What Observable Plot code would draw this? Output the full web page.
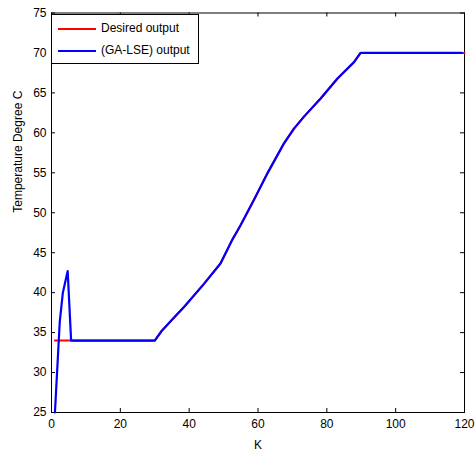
<!DOCTYPE html>
<html>
<head>
<meta charset="utf-8">
<script src="https://cdn.jsdelivr.net/npm/d3@7"></script>
<script src="https://cdn.jsdelivr.net/npm/@observablehq/plot@0.6"></script>
<style>
  html, body { margin: 0; padding: 0; background: #fff; }
  #wrap { position: relative; width: 476px; height: 453px; font-family: "Liberation Sans", Arial, sans-serif; }
  #legend { position: absolute; left: 51px; top: 14px; width: 148px; height: 50px; border: 1px solid #000; background: #fff; box-sizing: border-box; font-size: 12px; }
  .item { position: absolute; left: 6px; height: 14px; line-height: 14px; white-space: nowrap; }
  .item span.sw { display: inline-block; width: 38px; height: 2px; vertical-align: middle; margin-right: 5px; }
</style>
</head>
<body>
<div id="wrap"></div>
<script>
const desiredK = [1, 30, 32, 35, 38.5, 44.3, 49.1, 52.5, 54.9, 58.8, 62.7, 67.5, 70.4, 73.3, 78.2, 83.1, 87.9, 89.8, 120];
const desiredV = [34, 34, 35.2, 36.6, 38.2, 41.1, 43.65, 46.6, 48.4, 51.6, 54.9, 58.65, 60.5, 62, 64.3, 66.8, 68.85, 70, 70];
const gaK = [1, 2.4, 3.3, 4.7, 5.7, 30, 32, 35, 38.5, 44.3, 49.1, 52.5, 54.9, 58.8, 62.7, 67.5, 70.4, 73.3, 78.2, 83.1, 87.9, 89.8, 119.2];
const gaV = [25, 36.35, 40, 42.7, 34, 34, 35.2, 36.6, 38.2, 41.1, 43.65, 46.6, 48.4, 51.6, 54.9, 58.65, 60.5, 62, 64.3, 66.8, 68.85, 70, 70];
const xTicks = [0, 20, 40, 60, 80, 100, 120];
const yTicks = [25, 30, 35, 40, 45, 50, 55, 60, 65, 70, 75];
const seriesNames = ["Desired output", "(GA-LSE) output"];
const seriesColors = ["#ff0000", "#0000ff"];

const desired = desiredK.map((k, i) => ({k, v: desiredV[i]}));
const ga = gaK.map((k, i) => ({k, v: gaV[i]}));

const chart = Plot.plot({
  width: 476,
  height: 453,
  marginLeft: 51,
  marginRight: 12,
  marginTop: 12.5,
  marginBottom: 41,
  style: {fontFamily: '"Liberation Sans", Arial, sans-serif', fontSize: "12px", color: "#000", background: "#fff"},
  x: {domain: [0, 120]},
  y: {domain: [25, 75]},
  marks: [
    Plot.frame({stroke: "#000", strokeWidth: 1}),
    Plot.axisX(xTicks, {anchor: "bottom", tickSize: 0, tickPadding: 7, fontSize: 12, label: null}),
    Plot.axisY(yTicks, {anchor: "left", tickSize: 0, tickPadding: 5, fontSize: 12, label: null}),
    Plot.tickX(xTicks, {x: d => d, stroke: "#000", insetTop: 395.5}),
    Plot.tickX(xTicks, {x: d => d, stroke: "#000", insetBottom: 395.5}),
    Plot.tickY(yTicks, {y: d => d, stroke: "#000", insetRight: 409}),
    Plot.tickY(yTicks, {y: d => d, stroke: "#000", insetLeft: 409}),
    Plot.text(["K"], {frameAnchor: "bottom", dy: 36, fontSize: 12}),
    Plot.text(["Temperature Degree C"], {frameAnchor: "left", dx: -33, rotate: -90, fontSize: 12}),
    Plot.line(desired, {x: "k", y: "v", stroke: seriesColors[0], strokeWidth: 2}),
    Plot.line(ga, {x: "k", y: "v", stroke: seriesColors[1], strokeWidth: 2.2})
  ]
});

const wrap = document.getElementById("wrap");
wrap.appendChild(chart);
const legend = document.createElement("div");
legend.id = "legend";
seriesNames.forEach((name, i) => {
  const it = document.createElement("div");
  it.className = "item";
  it.style.top = (i === 0 ? 6 : 28) + "px";
  const sw = document.createElement("span");
  sw.className = "sw";
  sw.style.background = seriesColors[i];
  it.appendChild(sw);
  it.appendChild(document.createTextNode(name));
  legend.appendChild(it);
});
wrap.appendChild(legend);
</script>
</body>
</html>
